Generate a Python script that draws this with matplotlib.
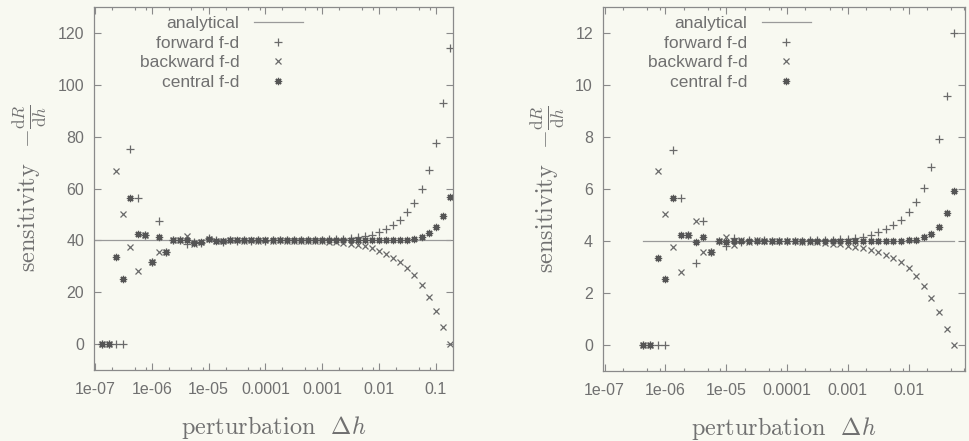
#!/usr/bin/env python3
"""Sensibilite par differences finies vs analytique (deux cas)."""
import matplotlib
matplotlib.use("Agg")
import matplotlib.pyplot as plt
from matplotlib.ticker import FixedLocator, FixedFormatter, NullFormatter

# --------------------------------------------------------------------------
# donnees
# --------------------------------------------------------------------------
H_LEFT = [
    1.334e-7, 1.778e-7, 2.371e-7, 3.162e-7, 4.217e-7, 5.623e-7, 7.499e-7,
    1e-6, 1.334e-6, 1.778e-6, 2.371e-6, 3.162e-6, 4.217e-6, 5.623e-6, 7.499e-6,
    1e-5, 1.334e-5, 1.778e-5, 2.371e-5, 3.162e-5, 4.217e-5, 5.623e-5, 7.499e-5,
    1e-4, 1.334e-4, 1.778e-4, 2.371e-4, 3.162e-4, 4.217e-4, 5.623e-4, 7.499e-4,
    1e-3, 1.334e-3, 1.778e-3, 2.371e-3, 3.162e-3, 4.217e-3, 5.623e-3, 7.499e-3,
    1e-2, 1.334e-2, 1.778e-2, 2.371e-2, 3.162e-2, 4.217e-2, 5.623e-2, 7.499e-2,
    1e-1, 1.334e-1, 1.778e-1,
]
FWD_LEFT = [
    0, 0, 0, 0, 75.2, 56.3, 42.2, 31.7, 47.3, 35.7,
    40.1, 40.0, 38.5, 39.5, 38.9, 40.9, 40.2, 39.4, 40.3, 39.8,
    40.2, 39.9, 40.1, 39.9, 40.1, 40.0, 40.1, 40.0, 40.1, 40.1,
    40.2, 40.3, 40.4, 40.5, 40.7, 40.9, 41.2, 41.6,
    42.1, 43.1, 44.4, 46.0, 48.0, 50.8, 54.4, 59.8, 67.3, 77.6, 92.9, 114.1,
]
BWD_LEFT = [
    0, 0, 66.9, 50.2, 37.6, 28.3, 42.2, 31.7, 35.5, 35.7,
    40.1, 40.0, 41.6, 38.6, 39.4, 40.4, 39.6, 39.7, 40.0, 40.2,
    39.8, 40.1, 39.9, 40.1, 39.9, 40.0, 39.9, 39.9, 39.8, 39.8,
    39.7, 39.6, 39.4, 39.2, 38.9, 38.6, 38.2, 37.7,
    37.0, 36.0, 34.8, 33.3, 31.5, 29.3, 26.6, 22.9, 18.3, 12.6, 6.4, 0,
]
CTR_LEFT = [
    0, 0, 33.4, 25.1, 56.3, 42.3, 42.2, 31.7, 41.4, 35.7,
    40.1, 40.0, 40.0, 39.0, 39.2, 40.6, 39.9, 39.6, 40.1, 40.0,
    40.0, 40.0, 40.0, 40.0, 40.0, 40.0, 40.0, 40.0, 40.0, 40.0,
    40.0, 40.0, 40.0, 40.0, 40.0, 40.0, 40.0, 40.0,
    40.0, 40.0, 40.05, 40.1, 40.2, 40.3, 40.6, 41.4, 42.7, 45.0, 49.5, 56.8,
]
EXACT_LEFT = 40.0

H_RIGHT = [
    4.217e-7, 5.623e-7, 7.499e-7,
    1e-6, 1.334e-6, 1.778e-6, 2.371e-6, 3.162e-6, 4.217e-6, 5.623e-6, 7.499e-6,
    1e-5, 1.334e-5, 1.778e-5, 2.371e-5, 3.162e-5, 4.217e-5, 5.623e-5, 7.499e-5,
    1e-4, 1.334e-4, 1.778e-4, 2.371e-4, 3.162e-4, 4.217e-4, 5.623e-4, 7.499e-4,
    1e-3, 1.334e-3, 1.778e-3, 2.371e-3, 3.162e-3, 4.217e-3, 5.623e-3, 7.499e-3,
    1e-2, 1.334e-2, 1.778e-2, 2.371e-2, 3.162e-2, 4.217e-2, 5.623e-2,
]
FWD_RIGHT = [
    0, 0, 0, 0, 7.5, 5.66, 4.23, 3.16, 4.76, 3.58,
    4.0, 3.8, 4.1, 3.95, 4.03, 3.98, 4.02, 3.99, 4.01, 4.0,
    4.01, 4.01, 4.02, 4.03, 4.04, 4.05, 4.07, 4.09, 4.12, 4.16,
    4.23, 4.33, 4.46, 4.63, 4.82, 5.11, 5.49, 6.05, 6.84, 7.94, 9.57, 11.99,
]
BWD_RIGHT = [
    0, 0, 6.7, 5.04, 3.77, 2.82, 4.23, 4.76, 3.58, 3.58,
    4.0, 4.15, 3.85, 4.05, 3.97, 4.02, 3.98, 4.0, 3.99, 3.99,
    3.98, 3.97, 3.96, 3.95, 3.93, 3.9, 3.87, 3.82, 3.78, 3.72,
    3.65, 3.57, 3.47, 3.34, 3.18, 2.97, 2.66, 2.28, 1.80, 1.25, 0.60, 0,
]
CTR_RIGHT = [
    0, 0, 3.35, 2.53, 5.66, 4.24, 4.23, 3.95, 4.17, 3.58,
    4.0, 3.97, 3.98, 4.0, 4.0, 4.0, 4.0, 4.0, 4.0, 4.0,
    4.0, 4.0, 4.0, 4.0, 4.0, 4.0, 4.0, 4.0, 4.0, 4.0,
    4.0, 4.0, 4.0, 4.0, 4.0, 4.03, 4.05, 4.14, 4.27, 4.55, 5.07, 5.94,
]
EXACT_RIGHT = 4.0

XTICKS = [1e-7, 1e-6, 1e-5, 1e-4, 1e-3, 1e-2, 1e-1]
XTICK_LABELS = ["1e-07", "1e-06", "1e-05", "0.0001", "0.001", "0.01", "0.1"]
YTICKS_LEFT = [0, 20, 40, 60, 80, 100, 120]
YTICKS_RIGHT = [0, 2, 4, 6, 8, 10, 12]

PAPER = "#f8f9f1"
INK = "#707070"
FRAME = "#8a8a8a"
MARK = "#6a6a6a"

plt.rcParams["mathtext.fontset"] = "cm"
plt.rcParams["font.family"] = ["Liberation Sans", "DejaVu Sans"]


def draw_panel(ax, h, fwd, bwd, ctr, exact, xlim, ylim, yticks, leg_x):
    ax.set_facecolor(PAPER)
    ax.plot([h[0] if h[0] > xlim[0] * 1.5 else xlim[0], h[-1]], [exact, exact],
            color="#9a9a9a", lw=0.9, label="analytical")
    ms, mew = 5.5, 0.9
    ax.plot(h, fwd, ls="none", marker="+", ms=ms, mew=mew, color=MARK,
            label="forward f-d")
    ax.plot(h, bwd, ls="none", marker="x", ms=ms * 0.85, mew=mew, color=MARK,
            label="backward f-d")
    ax.plot(h, ctr, ls="none", marker=(8, 2, 0), ms=ms * 0.95, mew=mew,
            color="#555555", label="central f-d")

    ax.set_xscale("log")
    ax.set_xlim(*xlim)
    ax.set_ylim(*ylim)
    ax.xaxis.set_major_locator(FixedLocator(XTICKS))
    ax.xaxis.set_major_formatter(FixedFormatter(XTICK_LABELS))
    minors = [d * s for d in XTICKS[:-1] + [1.0] for s in (2, 5, 8)]
    ax.xaxis.set_minor_locator(FixedLocator(minors))
    ax.xaxis.set_minor_formatter(NullFormatter())
    ax.set_yticks(yticks)

    for sp in ax.spines.values():
        sp.set_color(FRAME)
        sp.set_linewidth(0.9)
    ax.tick_params(which="both", direction="in", top=True, right=True,
                   color=FRAME, labelcolor=INK, labelsize=11.5, width=0.8)
    ax.tick_params(axis="x", which="major", length=5, pad=9)
    ax.tick_params(axis="y", which="major", length=5, pad=7)
    ax.tick_params(which="minor", length=2.5)

    ax.set_xlabel(r"perturbation  $\Delta h$", family="cmr10", fontsize=17.5,
                  color=INK, labelpad=12)
    ax.set_ylabel(r"sensitivity  $-\frac{\mathrm{d}R}{\mathrm{d}h}$",
                  family="cmr10", fontsize=17.5, color=INK, labelpad=6)

    leg = ax.legend(loc="upper right", bbox_to_anchor=(leg_x, 0.985),
                    markerfirst=False, frameon=False, fontsize=12.5,
                    handlelength=2.8, handletextpad=0.85, labelspacing=0.25,
                    borderaxespad=0.0, borderpad=0.2)
    for t in leg.get_texts():
        t.set_color(INK)
    return ax


fig = plt.figure(figsize=(9.69, 4.41), dpi=100, facecolor=PAPER)
ax1 = fig.add_axes([0.097, 0.161, 0.371, 0.823])
ax2 = fig.add_axes([0.622, 0.159, 0.374, 0.825])

draw_panel(ax1, H_LEFT, FWD_LEFT, BWD_LEFT, CTR_LEFT, EXACT_LEFT,
           (9.6e-8, 0.205), (-10, 130), YTICKS_LEFT, 0.59)
draw_panel(ax2, H_RIGHT, FWD_RIGHT, BWD_RIGHT, CTR_RIGHT, EXACT_RIGHT,
           (9.3e-8, 0.085), (-1, 13), YTICKS_RIGHT, 0.583)

fig.savefig("out.png", dpi=100, facecolor=PAPER)
